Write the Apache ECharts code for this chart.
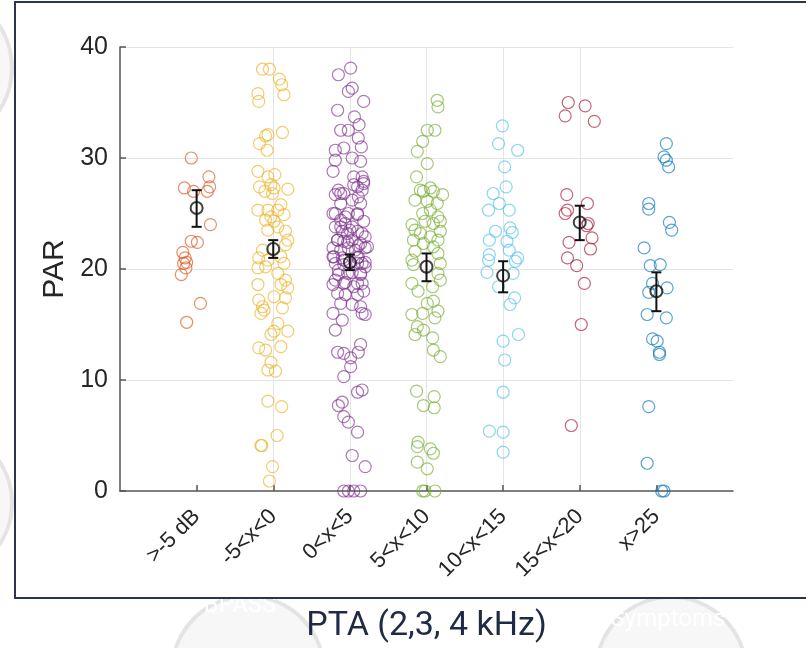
<!DOCTYPE html>
<html>
<head>
<meta charset="utf-8">
<title>PAR by PTA</title>
<script src="https://cdn.jsdelivr.net/npm/echarts@6/dist/echarts.min.js"></script>
<style>
  html, body { margin: 0; padding: 0; background: #fff; }
  #main { width: 806px; height: 648px; }
</style>
</head>
<body>
<div id="main"></div>
<script>
// categories on the x axis (positions 1..7)
var categories = ['>-5 dB', '-5<x<0', '0<x<5', '5<x<10', '10<x<15', '15<x<20', 'x>25'];
var groupColors = ['#D95319', '#EDB120', '#7E2F8E', '#77AC30', '#4DBEEE', '#A2142F', '#0072BD'];

// individual points: [jitter offset from category, PAR]
var g1 = [[-0.07,30.0],[0.16,28.3],[-0.16,27.3],[-0.04,27.0],[0.17,27.4],[0.14,27.0],[0.18,24.0],[-0.07,22.5],
  [0.01,22.4],[-0.18,21.5],[-0.15,21.0],[-0.13,20.6],[-0.17,20.5],[-0.14,20.1],[-0.2,19.5],[0.05,16.9],[-0.13,15.2]];
var g2 = [[-0.14,38.0],[-0.05,38.0],[0.08,37.1],[0.11,36.6],[0.14,35.7],[-0.2,35.8],[-0.19,35.1],[0.12,32.3],
  [-0.07,32.1],[-0.1,32.0],[-0.18,31.3],[-0.08,30.7],[-0.2,28.8],[-0.07,28.3],[0.02,28.5],[-0.18,27.4],
  [-0.03,27.6],[0.01,27.3],[0.19,27.2],[-0.11,27.0],[-0.01,26.8],[-0.2,25.3],[-0.07,25.3],[0.1,25.8],
  [0.06,25.3],[0.14,24.9],[-0.03,24.7],[-0.1,24.4],[0.01,24.3],[0.16,23.4],[-0.07,23.5],[0.06,23.8],
  [0.19,22.6],[-0.14,21.7],[-0.19,21.0],[-0.07,20.8],[0.1,21.1],[0.16,22.2],[0.14,20.5],[-0.2,20.1],
  [-0.1,20.2],[0.06,19.6],[0.16,19.0],[-0.2,18.6],[0.1,18.6],[0.19,18.3],[0.01,17.5],[0.16,17.4],
  [-0.19,17.2],[-0.14,16.6],[-0.12,16.3],[0.12,16.5],[-0.16,16.0],[0.06,15.1],[0.19,14.4],[-0.03,14.1],
  [0.01,14.4],[0.1,13.0],[-0.19,12.9],[-0.1,12.7],[-0.03,11.6],[-0.07,10.9],[0.03,10.8],[-0.07,8.1],
  [0.11,7.6],[0.05,5.0],[-0.16,4.1],[-0.15,4.1],[-0.01,2.2],[-0.05,0.9]];
var g3 = [[0.01,38.1],[-0.15,37.5],[0.03,36.3],[-0.02,36.0],[0.18,35.1],[-0.16,34.3],[0.06,33.7],[0.12,33.0],
  [-0.12,32.5],[-0.02,32.5],[0.11,31.8],[-0.08,30.9],[-0.19,30.7],[0.15,31.0],[0.03,30.0],[-0.19,29.8],
  [0.14,29.7],[-0.22,28.8],[0.05,28.3],[0.16,28.3],[0.18,27.9],[-0.15,27.1],[-0.19,26.7],[-0.08,26.8],
  [0.1,27.4],[0.11,26.5],[0.16,27.1],[0.03,26.2],[-0.12,25.9],[0.14,25.9],[-0.22,25.0],[-0.02,25.0],
  [0.1,24.9],[-0.12,24.4],[-0.06,24.1],[-0.19,23.8],[0.18,24.3],[0.03,23.8],[-0.1,23.4],[-0.03,23.2],
  [0.1,23.4],[0.2,22.9],[-0.16,22.6],[-0.08,22.5],[0.03,22.6],[0.14,22.3],[-0.22,21.9],[-0.12,21.7],
  [-0.02,21.9],[0.07,21.7],[0.2,21.9],[-0.22,21.1],[-0.1,21.0],[0.11,21.1],[-0.19,20.5],[-0.08,20.4],
  [0.16,20.5],[0.1,20.5],[0.2,20.2],[-0.15,19.5],[-0.03,19.6],[0.14,19.5],[-0.22,18.6],[-0.08,18.7],
  [0.05,18.4],[0.16,18.7],[-0.16,17.8],[-0.06,17.7],[0.1,17.7],[0.18,18.0],[-0.12,16.9],[0.03,16.8],
  [0.14,16.6],[-0.22,16.0],[0.16,16.0],[0.2,15.9],[-0.1,15.4],[-0.19,14.5],[0.14,13.2],[-0.16,12.5],
  [-0.08,12.4],[0.11,12.5],[0.01,12.0],[0.01,11.2],[-0.08,10.3],[0.16,9.1],[0.1,8.9],[-0.1,8.0],
  [-0.15,7.7],[-0.08,6.7],[-0.02,6.2],[0.1,5.3],[0.03,3.2],[0.2,2.2],[-0.08,0],[-0.02,0],[0.05,0],[0.14,0],
  [-0.12,26.8],[0.05,27.6],[0.18,27.7],[-0.19,25.0],[-0.06,24.7],[0.1,25.0],[-0.12,23.8],[0.0,23.5],
  [0.16,23.2],[-0.16,22.6],[-0.03,22.4],[0.11,22.1],[0.23,22.0],[-0.21,21.1],[-0.08,20.8],[0.1,21.0],
  [0.2,20.6],[-0.15,19.9],[0.03,19.7],[0.14,19.6],[-0.19,19.0],[-0.06,18.8],[0.1,18.7]];
var g4 = [[0.14,35.2],[0.15,34.6],[0.01,32.5],[0.11,32.5],[-0.05,31.5],[-0.12,30.6],[0.01,29.5],[-0.13,28.3],
  [-0.08,27.1],[0.05,27.3],[-0.04,27.0],[0.09,27.0],[0.21,26.7],[-0.15,26.2],[0.01,26.1],[0.14,25.9],
  [0.05,25.3],[-0.05,25.0],[0.15,24.7],[0.18,24.3],[-0.19,24.0],[0.09,24.1],[-0.02,24.3],[-0.15,23.5],
  [0.18,23.4],[-0.08,23.2],[0.05,22.9],[-0.17,22.6],[0.15,22.6],[-0.04,22.3],[0.09,22.0],[-0.15,21.6],
  [0.15,21.4],[-0.19,20.8],[0.18,20.5],[-0.17,20.4],[0.15,19.6],[0.18,19.0],[-0.19,18.7],[-0.11,18.0],
  [0.08,18.4],[0.01,16.9],[0.09,17.1],[-0.19,15.9],[-0.05,16.0],[0.15,16.2],[0.11,15.6],[-0.12,14.8],
  [-0.04,14.5],[-0.15,14.1],[0.08,13.8],[0.09,12.7],[0.18,12.1],[-0.13,9.0],[0.1,8.5],[-0.04,7.7],
  [0.1,7.5],[-0.11,4.4],[-0.12,4.0],[0.05,3.8],[0.09,3.4],[-0.12,2.6],[0.01,2.0],[-0.05,0],[-0.02,0],[0.11,0]];
var g5 = [[-0.01,32.9],[-0.06,31.3],[0.19,30.7],[0.02,29.2],[0.04,27.4],[-0.13,26.8],[-0.05,25.9],[-0.19,25.3],
  [0.08,25.3],[0.09,23.7],[-0.1,23.4],[0.12,23.3],[-0.18,22.6],[0.05,22.5],[0.08,21.7],[-0.18,21.3],
  [0.19,21.0],[0.16,20.7],[-0.19,20.8],[-0.21,19.7],[0.13,19.6],[-0.06,18.4],[0.15,17.4],[0.09,16.8],
  [0.2,14.1],[0.0,13.5],[0.02,11.8],[0.0,8.9],[-0.18,5.4],[0.0,5.3],[0.0,3.5]];
var g6 = [[-0.15,35.0],[0.07,34.7],[-0.19,33.8],[0.19,33.3],[-0.17,26.7],[0.1,25.9],[-0.16,25.3],[-0.19,25.0],
  [0.11,24.1],[0.09,23.9],[0.16,22.8],[-0.14,22.4],[0.14,21.8],[-0.16,21.0],[-0.04,20.3],[0.06,18.7],
  [0.02,15.0],[-0.11,5.9]];
var g7 = [[0.13,31.3],[0.1,30.1],[0.13,29.8],[0.16,29.2],[-0.1,25.9],[-0.1,25.4],[0.17,24.2],[0.2,23.5],
  [-0.16,21.9],[-0.08,20.3],[0.05,20.4],[-0.05,18.7],[-0.1,17.9],[0.14,18.3],[-0.12,15.9],[0.13,15.6],
  [-0.05,13.7],[0.01,13.5],[0.04,12.5],[0.04,12.3],[-0.1,7.6],[-0.12,2.5],[0.07,0],[0.1,0]];
var groups = [g1, g2, g3, g4, g5, g6, g7];

// group means and error bar limits
var meanVals = [25.5, 21.8, 20.6, 20.2, 19.4, 24.2, 18.0];
var errLow   = [23.8, 21.0, 19.9, 18.9, 17.9, 22.6, 16.2];
var errHigh  = [27.1, 22.6, 21.3, 21.4, 20.7, 25.7, 19.7];

var yTicks = [0, 10, 20, 30, 40];
var catPos = categories.map(function (c, i) { return i + 1; });

var myChart = echarts.init(document.getElementById('main'), null, { renderer: 'canvas' });

var series = [];
groups.forEach(function (g, i) {
  series.push({
    type: 'scatter',
    name: categories[i],
    symbol: 'circle',
    symbolSize: 12,
    silent: true,
    itemStyle: { color: 'rgba(0,0,0,0)', borderColor: groupColors[i], borderWidth: 1.2, opacity: 0.65 },
    data: g.map(function (p) { return [i + 1 + p[0], p[1]]; }),
    z: 2
  });
});

// error bars
series.push({
  type: 'custom',
  silent: true,
  z: 5,
  data: meanVals.map(function (m, i) { return [i + 1, errLow[i], errHigh[i]]; }),
  renderItem: function (params, api) {
    var lo = api.coord([api.value(0), api.value(1)]);
    var hi = api.coord([api.value(0), api.value(2)]);
    var w = 5;
    var st = { stroke: '#111', lineWidth: 2 };
    return {
      type: 'group',
      children: [
        { type: 'line', shape: { x1: lo[0], y1: lo[1], x2: hi[0], y2: hi[1] }, style: st },
        { type: 'line', shape: { x1: lo[0] - w, y1: lo[1], x2: lo[0] + w, y2: lo[1] }, style: st },
        { type: 'line', shape: { x1: hi[0] - w, y1: hi[1], x2: hi[0] + w, y2: hi[1] }, style: st }
      ]
    };
  }
});

// means
series.push({
  type: 'scatter',
  symbol: 'circle',
  symbolSize: 12,
  silent: true,
  z: 6,
  itemStyle: { color: 'rgba(0,0,0,0)', borderColor: '#111', borderWidth: 2 },
  data: meanVals.map(function (m, i) { return [i + 1, m]; })
});

var option = {
  backgroundColor: '#fff',
  animation: false,
  textStyle: { fontFamily: 'Liberation Sans, Arial, sans-serif' },
  grid: { left: 120, right: 73, top: 47, bottom: 157, containLabel: false },
  graphic: [
    // faint slide decorations behind the chart
    { type: 'circle', z: -10, shape: { cx: -65, cy: 68, r: 77 }, style: { fill: '#f7f7f7', stroke: '#e4e4e4', lineWidth: 4 } },
    { type: 'circle', z: -10, shape: { cx: -63, cy: 503, r: 75 }, style: { fill: '#f7f7f7', stroke: '#e4e4e4', lineWidth: 4 } },
    { type: 'circle', z: -10, shape: { cx: 248, cy: 672, r: 76 }, style: { fill: '#f7f7f7', stroke: '#e4e4e4', lineWidth: 4 } },
    { type: 'circle', z: -10, shape: { cx: 671, cy: 672, r: 75 }, style: { fill: '#f7f7f7', stroke: '#e4e4e4', lineWidth: 4 } },
    { type: 'text', z: -9, x: 240, y: 606, style: { text: 'BPASS', fill: '#ffffff', fontSize: 24, fontFamily: 'Roboto', textAlign: 'center', textVerticalAlign: 'middle' } },
    { type: 'text', z: -9, x: 668, y: 620, style: { text: 'Symptoms', fill: '#ffffff', fontSize: 24, fontFamily: 'Roboto', textAlign: 'center', textVerticalAlign: 'middle' } },
    { type: 'rect', z: -8, shape: { x: 15, y: 2, width: 820, height: 596 }, style: { fill: '#ffffff', stroke: '#2b3648', lineWidth: 2 } }
  ],
  xAxis: {
    type: 'value',
    min: 0,
    max: 8,
    interval: 1,
    name: 'PTA (2,3, 4 kHz)',
    nameLocation: 'middle',
    nameGap: 118,
    nameTextStyle: { fontSize: 34, color: '#1f2b44', fontFamily: 'Roboto' },
    axisLine: { onZero: false, lineStyle: { color: '#555', width: 1.5 } },
    axisTick: { inside: true, length: 6, customValues: catPos, lineStyle: { color: '#555', width: 1.5 } },
    axisLabel: {
      rotate: 45,
      fontSize: 22,
      color: '#262626',
      margin: 22,
      customValues: catPos,
      formatter: function (v) { return categories[v - 1] || ''; }
    },
    splitLine: { show: true, showMinLine: false, showMaxLine: false, lineStyle: { color: '#e5e5e5', width: 1 } }
  },
  yAxis: {
    type: 'value',
    min: yTicks[0],
    max: yTicks[yTicks.length - 1],
    interval: 10,
    name: 'PAR',
    nameLocation: 'middle',
    nameGap: 46,
    nameTextStyle: { fontSize: 30, color: '#262626' },
    axisLine: { show: true, lineStyle: { color: '#555', width: 1.5 } },
    axisTick: { show: true, inside: true, length: 6, lineStyle: { color: '#555', width: 1.5 } },
    axisLabel: { fontSize: 25, color: '#262626', margin: 12 },
    splitLine: { show: true, showMinLine: false, lineStyle: { color: '#e5e5e5', width: 1 } }
  },
  series: series
};

myChart.setOption(option);
</script>
</body>
</html>
